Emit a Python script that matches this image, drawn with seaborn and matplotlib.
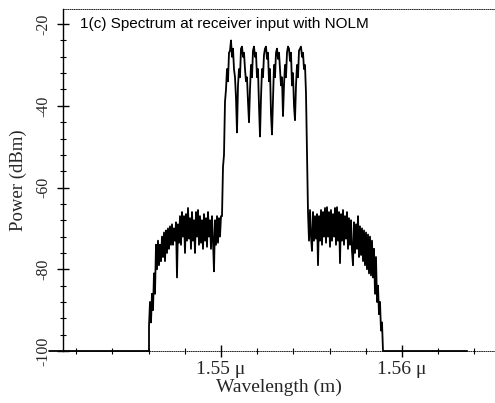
import numpy as np
import pandas as pd
import matplotlib
matplotlib.use("Agg")
import matplotlib.pyplot as plt
from matplotlib.ticker import MultipleLocator, FixedLocator
import seaborn as sns

# ---- data (wavelength in metres shown as micro-metres, power in dBm) ----
floor_left_wl = [1.5405, 1.546022]
floor_left_db = [-100, -100]

signal_wl_start = 1.546022
signal_wl_stop = 1.558895

left_shoulder_db = [
    -94, -88, -93, -86, -90, -81, -86, -74, -80, -73, -79, -74, -78, -72, -77, -71,
    -78, -70.5, -76, -70, -75, -69.5, -74, -69, -74, -70, -73, -68.5, -82, -69, -73.5, -67,
    -74, -66, -72, -67, -76, -66.5, -73, -65, -72.5, -67.5, -75, -66, -73, -68, -76, -66,
    -72, -65.5, -74, -67, -73.5, -68, -75, -66.5, -73, -67.5, -74.5, -66, -72, -68, -75, -67,
    -73, -80.5, -68, -74, -67, -73.5, -67.5, -72,
]

main_band_db = [
    -67, -67, -55, -52, -39, -36, -31, -34, -27, -26.5, -24, -28, -26, -31, -33, -38,
    -46.5, -35, -31, -33, -26, -25.5, -28, -27, -31, -34, -33, -39, -44, -36, -30, -33,
    -26.5, -25.5, -28, -27, -33, -31, -40, -47.5, -38, -31, -33, -27.5, -26, -25.5, -28.5, -27,
    -34, -31, -42, -47, -38, -30, -33, -27, -26, -28.5, -27, -31, -35, -33, -42.5, -35,
    -30, -33, -27, -25.5, -26, -29, -27, -35, -32, -40, -43.5, -35, -30, -33, -26.5, -26,
    -25.5, -28, -27, -31, -30, -37, -52,
]

right_shoulder_db = [
    -66, -73, -65.5, -72, -75.5, -66, -73, -67, -72.5, -66.5, -79, -67, -73, -65.5, -74, -66,
    -72, -65, -73.5, -64.8, -72, -66, -74.5, -65.5, -73, -66.5, -72, -65, -74, -64.8, -73, -66,
    -78.5, -66.5, -73, -65.5, -74, -67, -72.5, -66, -75, -67.5, -74, -68, -75.5, -79, -68.5, -76,
    -69, -75, -67, -77, -69.5, -76.5, -70, -78, -70.5, -79, -71, -80, -71.5, -81, -72, -81.5,
    -73, -82, -75, -86, -77, -88, -84, -91, -88, -95, -93,
]

floor_right_wl = [1.55895, 1.5636]
floor_right_db = [-100, -100]

title_text = "1(c) Spectrum at receiver input with NOLM"
x_label = "Wavelength (m)"
y_label = "Power (dBm)"
x_tick_values = [1.55, 1.56]
x_tick_labels = ["1.55 \u03bc", "1.56 \u03bc"]
y_tick_values = [-100, -80, -60, -40, -20]
y_tick_labels = ["-100", "-80", "-60", "-40", "-20"]

# ---- build the series ----
signal_db = left_shoulder_db + main_band_db + right_shoulder_db
signal_wl = list(np.linspace(signal_wl_start, signal_wl_stop, len(signal_db)))
wl = floor_left_wl + signal_wl + floor_right_wl
db = floor_left_db + signal_db + floor_right_db
df = pd.DataFrame({"wl": wl, "db": db})

sns.set_style("white")
plt.rcParams["font.family"] = ["Liberation Serif", "DejaVu Serif"]

fig = plt.figure(figsize=(4.95, 4.03), dpi=100)
ax = fig.add_axes([63 / 495, 52 / 403, 432 / 495, 342 / 403])

sns.lineplot(data=df, x="wl", y="db", sort=False, estimator=None,
             color="black", linewidth=1.3, ax=ax, clip_on=False)

ax.set_xlim(1.541271, 1.565138)
ax.set_ylim(-100, -16.3)

# spines
ax.spines["right"].set_visible(False)
ax.spines["left"].set_color("black")
ax.spines["left"].set_linewidth(1.0)
for s in ("top", "bottom"):
    ax.spines[s].set_color("black")
    ax.spines[s].set_linewidth(0.6)
    ax.spines[s].set_linestyle((0, (1, 1.6)))

# ticks
ax.xaxis.set_major_locator(FixedLocator(x_tick_values))
ax.set_xticklabels(x_tick_labels)
ax.xaxis.set_minor_locator(MultipleLocator(0.002))
ax.yaxis.set_major_locator(FixedLocator(y_tick_values))
ax.set_yticklabels(y_tick_labels)
ax.yaxis.set_minor_locator(MultipleLocator(4))

ax.tick_params(axis="both", which="major", direction="inout", length=9,
               width=1.0, color="black", bottom=True, left=True, top=False, right=False)
ax.tick_params(axis="both", which="minor", direction="inout", length=5,
               width=0.8, color="black", bottom=True, left=True, top=False, right=False)
ax.tick_params(axis="x", which="major", labelsize=14, pad=3)
ax.tick_params(axis="y", which="major", labelsize=11.5, pad=4)
for lab in ax.get_yticklabels():
    lab.set_rotation(90)
    lab.set_va("center")

ax.set_xlabel(x_label, fontsize=14, labelpad=0)
ax.set_ylabel(y_label, fontsize=13.5, labelpad=6)

ax.text(0.039, 0.944, title_text, transform=ax.transAxes, ha="left", va="baseline",
        fontsize=11, family=["Liberation Sans", "DejaVu Sans"], color="black")

fig.savefig("out.png", dpi=100)
